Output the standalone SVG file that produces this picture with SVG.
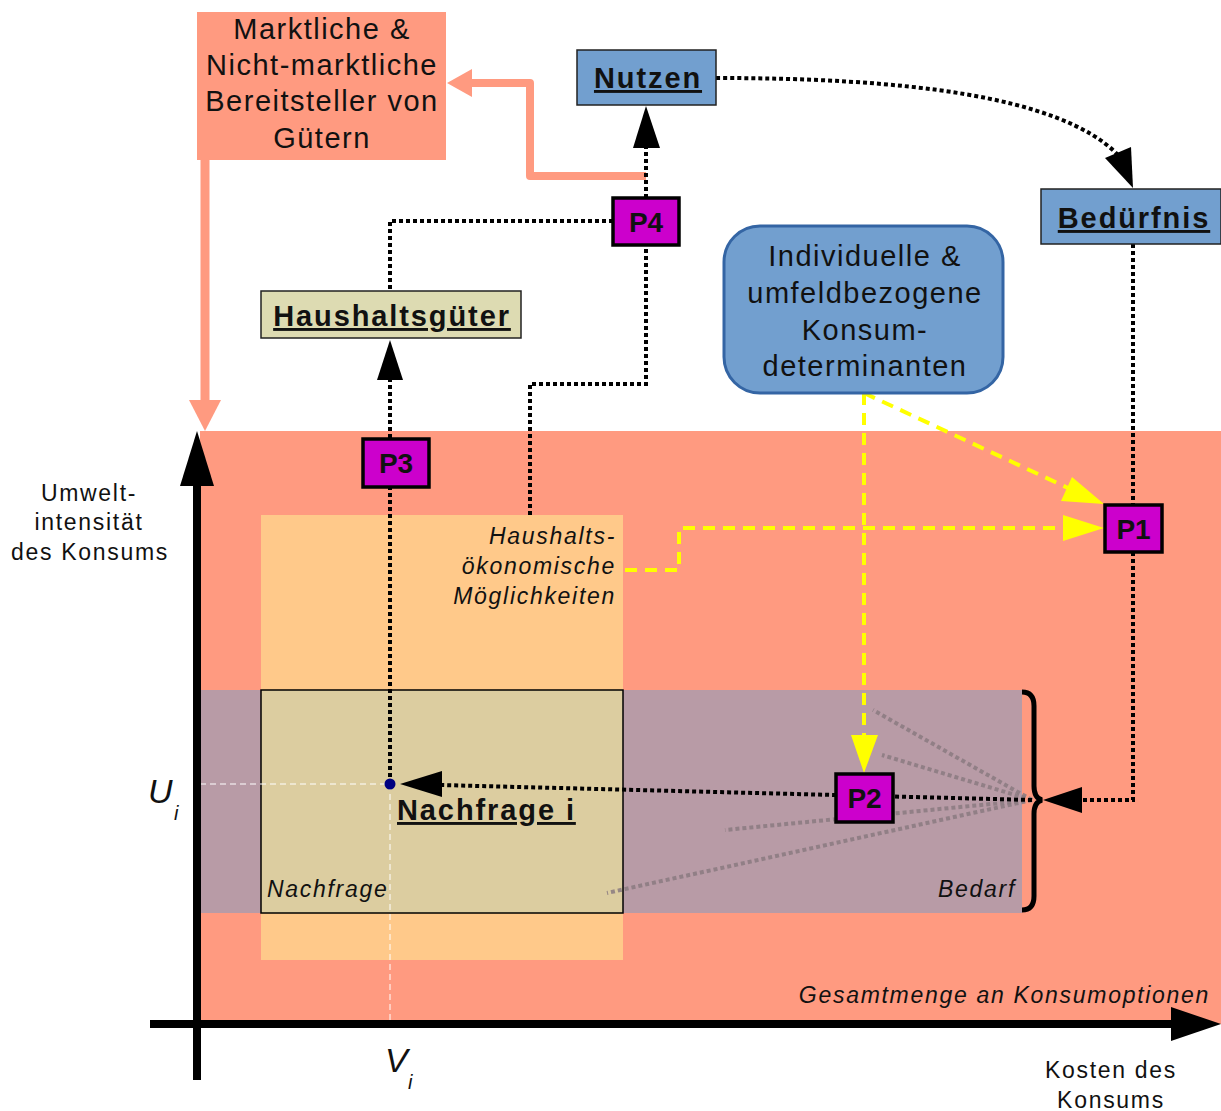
<svg xmlns="http://www.w3.org/2000/svg" width="1221" height="1111" viewBox="0 0 1221 1111">
<style>
text{font-family:"Liberation Sans",Arial,sans-serif;fill:#111}
.big{font-size:29px;letter-spacing:1.5px}
.lab{font-size:23px;letter-spacing:1.7px}
.it{font-style:italic}
.bu{font-weight:bold;text-decoration:underline;font-size:29px;letter-spacing:1.9px}
.pb{fill:#cc00cc;stroke:#000;stroke-width:3.5}
.pt{font-weight:bold;font-size:28px;text-anchor:middle}
.dot{fill:none;stroke:#000;stroke-width:4;stroke-dasharray:4 3}
.yel{fill:none;stroke:#ffff00;stroke-width:4;stroke-dasharray:12 8}
.fan{fill:none;stroke:#8a7a80;stroke-width:4;stroke-dasharray:4 3;opacity:0.85}
.blue{fill:#729fcf;stroke:#222;stroke-width:1.5}
</style>
<rect x="0" y="0" width="1221" height="1111" fill="#fff"/>
<g id="background">
<rect x="200" y="431" width="1021" height="593" fill="#ff9a80"/>
<rect x="261" y="515" width="362" height="445" fill="#ffc98a"/>
<rect x="200" y="690" width="822" height="223" fill="#b89ba6"/>
</g>
<g id="nachfrage-box">
<rect x="261" y="690" width="362" height="223" fill="#dccda0" stroke="#000" stroke-width="1.5"/>
<text x="267" y="897" class="lab it">Nachfrage</text>
</g>
<g id="guides">
<line x1="180" y1="784" x2="390" y2="784" stroke="#fff" stroke-width="1" stroke-dasharray="6 4"/>
<line x1="390" y1="784" x2="390" y2="1035" stroke="#fff" stroke-width="1" stroke-dasharray="6 4"/>
</g>
<g id="axes">
<line x1="197" y1="1080" x2="197" y2="480" stroke="#000" stroke-width="8"/>
<polygon points="197,431 180,486 214,486" fill="#000"/>
<line x1="150" y1="1024" x2="1175" y2="1024" stroke="#000" stroke-width="8"/>
<polygon points="1221,1024 1171,1007 1171,1041" fill="#000"/>
</g>
<g id="labels">
<text x="89" y="501" class="lab" text-anchor="middle">Umwelt-</text>
<text x="89" y="530" class="lab" text-anchor="middle">intensität</text>
<text x="90" y="560" class="lab" text-anchor="middle">des Konsums</text>
<text x="148" y="803" class="it" font-size="34">U</text>
<text x="174" y="820" class="it" font-size="20">i</text>
<text x="385" y="1072" class="it" font-size="34">V</text>
<text x="408" y="1089" class="it" font-size="20">i</text>
<text x="1111" y="1078" class="lab" text-anchor="middle">Kosten des</text>
<text x="1111" y="1108" class="lab" text-anchor="middle">Konsums</text>
<text x="1210" y="1003" class="lab it" text-anchor="end">Gesamtmenge an Konsumoptionen</text>
<text x="1016" y="897" class="lab it" text-anchor="end">Bedarf</text>
<text x="616" y="544" class="lab it" text-anchor="end">Haushalts-</text>
<text x="616" y="574" class="lab it" text-anchor="end">ökonomische</text>
<text x="616" y="604" class="lab it" text-anchor="end">Möglichkeiten</text>
</g>
<g id="connectors">
<line x1="1032" y1="800" x2="873" y2="710" class="fan"/>
<line x1="1032" y1="800" x2="882" y2="755" class="fan"/>
<line x1="1032" y1="800" x2="725" y2="830" class="fan"/>
<line x1="1032" y1="800" x2="607" y2="893" class="fan"/>
<path d="M1022,692 Q1034,692 1034,706 L1034,786 Q1034,798 1042,800 Q1034,802 1034,814 L1034,896 Q1034,910 1022,910" fill="none" stroke="#000" stroke-width="5"/>
<polyline points="1133,552 1133,800 1080,800" class="dot"/>
<polygon points="1043,800 1082,787 1082,813" fill="#000"/>
<line x1="1133" y1="244" x2="1133" y2="505" class="dot"/>
<line x1="1032" y1="800" x2="440" y2="785" class="dot"/>
<polygon points="400,784 442,771 442,797" fill="#000"/>
<line x1="390" y1="784" x2="390" y2="487" class="dot"/>
<line x1="390" y1="438" x2="390" y2="378" class="dot"/>
<polygon points="390,340 377,380 403,380" fill="#000"/>
<polyline points="613,221 390,221 390,291" class="dot"/>
<polyline points="530,515 530,384 646,384 646,245" class="dot"/>
<polyline points="646,176 530,176 530,83 468,83" fill="none" stroke="#ff9a80" stroke-width="8" stroke-linejoin="round"/>
<polygon points="447,83 472,69 472,97" fill="#ff9a80"/>
<line x1="205" y1="160" x2="205" y2="404" stroke="#ff9a80" stroke-width="9"/>
<polygon points="205,431 189,400 221,400" fill="#ff9a80"/>
<line x1="646" y1="198" x2="646" y2="146" class="dot"/>
<polygon points="646,106 633,148 660,148" fill="#000"/>
<path d="M716,78 C900,78 1060,95 1118,155" class="dot"/>
<polygon points="1133,188 1105,158 1131,147" fill="#000"/>
<line x1="864" y1="393" x2="864" y2="736" class="yel"/>
<polygon points="864,773 851,735 878,735" fill="#ffff00"/>
<line x1="864" y1="393" x2="1068" y2="488" class="yel"/>
<polygon points="1104,504 1072,477 1061,501" fill="#ffff00"/>
<polyline points="625,570 679,570 679,528 1066,528" class="yel"/>
<polygon points="1104,528 1063,515 1063,541" fill="#ffff00"/>
</g>
<g id="nachfrage-i">
<circle cx="390" cy="784" r="5.5" fill="#000080"/>
<text x="397" y="820" class="bu">Nachfrage i</text>
</g>
<g id="p1"><rect x="1105" y="505" width="57" height="47" class="pb"/><text x="1133.5" y="539" class="pt">P1</text></g>
<g id="p2"><rect x="836" y="774" width="57" height="48" class="pb"/><text x="864.5" y="808" class="pt">P2</text></g>
<g id="p3"><rect x="363" y="439" width="66" height="48" class="pb"/><text x="396" y="473" class="pt">P3</text></g>
<g id="p4"><rect x="613" y="198" width="66" height="47" class="pb"/><text x="646" y="232" class="pt">P4</text></g>
<g id="marktliche">
<rect x="197" y="12" width="249" height="148" fill="#ff9a80"/>
<text x="322" y="39" class="big" text-anchor="middle">Marktliche &amp;</text>
<text x="322" y="75" class="big" text-anchor="middle">Nicht-marktliche</text>
<text x="322" y="111" class="big" text-anchor="middle">Bereitsteller von</text>
<text x="322" y="148" class="big" text-anchor="middle">Gütern</text>
</g>
<g id="nutzen">
<rect x="577" y="50" width="139" height="55" class="blue"/>
<text x="648" y="88" class="bu" text-anchor="middle">Nutzen</text>
</g>
<g id="beduerfnis">
<rect x="1041" y="189" width="180" height="55" class="blue"/>
<text x="1134" y="228" class="bu" text-anchor="middle">Bedürfnis</text>
</g>
<g id="haushaltsgueter">
<rect x="261" y="291" width="260" height="47" fill="#dddbb2" stroke="#222" stroke-width="1.5"/>
<text x="392" y="326" class="bu" text-anchor="middle">Haushaltsgüter</text>
</g>
<g id="determinanten">
<rect x="724" y="226" width="279" height="167" rx="36" fill="#729fcf" stroke="#3465a4" stroke-width="3"/>
<text x="865" y="266" class="big" text-anchor="middle">Individuelle &amp;</text>
<text x="865" y="303" class="big" text-anchor="middle">umfeldbezogene</text>
<text x="865" y="340" class="big" text-anchor="middle">Konsum-</text>
<text x="865" y="376" class="big" text-anchor="middle">determinanten</text>
</g>
</svg>
